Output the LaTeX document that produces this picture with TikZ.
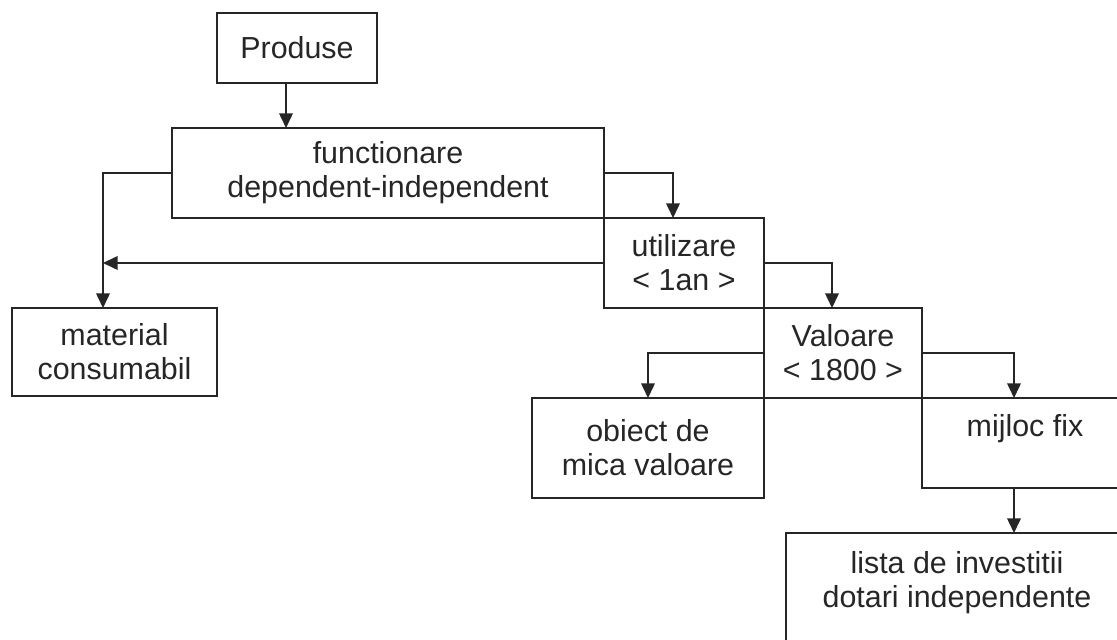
\documentclass[tikz,border=0pt]{standalone}
\usepackage{fontspec}
\setmainfont{Liberation Sans}
\usetikzlibrary{arrows.meta,positioning}
\definecolor{ink}{RGB}{38,38,38}

\begin{document}
\begin{tikzpicture}[
  font=\fontsize{17.3}{19.4}\selectfont,
  color=ink, line width=0.9pt,
  box/.style={draw, align=center, inner sep=0pt, outer sep=0pt,
              minimum height=18mm},
  >={Triangle[length=2.9mm, width=2.7mm]}]
\useasboundingbox (0,0) rectangle (22.34,-12.8);
\clip (0,0) rectangle (22.34,-12.8);
\node[box, minimum width=86.4mm, anchor=north west] (func) at (3.44,-2.56)
      {functionare\\dependent-independent};
\node[box, minimum width=32mm, minimum height=14mm,
      above=9mm of func.north west, anchor=south west, xshift=9mm] (prod) {Produse};
\node[box, minimum width=32mm, anchor=north west] (util) at (func.south east)
      {utilizare\\< 1an >};
\node[box, minimum width=31.6mm, anchor=north west] (val) at (util.south east)
      {Valoare\\< 1800 >};
\node[box, minimum width=46.4mm, minimum height=20mm, anchor=north east] (obj)
      at (val.south west) {obiect de\\mica valoare};
\node[box, minimum width=41.2mm, anchor=north west] (mij) at (val.south east)
      {mijloc fix\\\mbox{}};
\node[box, minimum width=68.4mm, minimum height=25.4mm,
      below=9mm of mij.south east, anchor=north east] (lista)
      {lista de investitii\\dotari independente\\\mbox{}};
\node[box, minimum width=41mm, minimum height=17.6mm,
      below=18mm of func.south west, anchor=north west, xshift=-32mm] (mat)
      {material\\consumabil};
\coordinate (pout) at ([xshift=-2.2mm]prod.south);
\coordinate (jmat) at ([xshift=-2.3mm]mat.north);
\coordinate (mout) at ([xshift=-2.2mm]mij.south);
\draw[->] (pout) -- (pout |- func.north);
\draw[->] (func.west) -| (jmat);
\draw[->] (util.west) -- (util.west -| jmat);
\draw[->] (func.east) -| ([xshift=-2.2mm]util.north);
\draw[->] (util.east) -| ([xshift=-2.2mm]val.north);
\draw[->] (val.west) -| (obj.north);
\draw[->] (val.east) -| ([xshift=-2.2mm]mij.north);
\draw[->] (mout) -- (mout |- lista.north);
\end{tikzpicture}
\end{document}
